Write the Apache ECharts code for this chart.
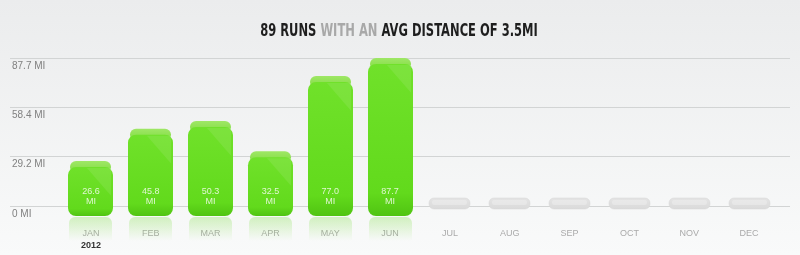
<!DOCTYPE html>
<html>
<head>
<meta charset="utf-8">
<script src="https://cdn.jsdelivr.net/npm/echarts@6/dist/echarts.min.js"></script>
<style>html,body{margin:0;padding:0;}#c{width:800px;height:255px;}</style>
</head>
<body>
<div id="c"></div>
<script>
var months = ['JAN','FEB','MAR','APR','MAY','JUN','JUL','AUG','SEP','OCT','NOV','DEC'];
var distances = [26.6, 45.8, 50.3, 32.5, 77.0, 87.7, null, null, null, null, null, null];
var yTickLabels = ['0 MI', '29.2 MI', '58.4 MI', '87.7 MI'];
var yMax = 87.7;
var yearLabel = '2012';
var titleParts = ['89 RUNS ', 'WITH AN ', 'AVG DISTANCE OF 3.5MI'];

var chart = echarts.init(document.getElementById('c'));

var data = distances.map(function (v, i) {
  return [i, v === null ? 0 : v, v === null ? 0 : 1];
});

function lg(stops) {
  return new echarts.graphic.LinearGradient(0, 0, 0, 1, stops);
}

function renderItem(params, api) {
  var idx = api.value(0), v = api.value(1), has = api.value(2);
  var base = api.coord([idx, 0]);
  var cw = api.size([1, 0])[0];
  var w = Math.round(cw * 0.755);
  var cx = base[0];
  var x = Math.round(cx - w / 2);
  var yb = base[1];
  var ch = [];
  if (!has) {
    ch.push({type: 'rect', shape: {x: x + 2, y: yb - 8, width: w - 4, height: 11, r: 5},
      style: {fill: lg([{offset: 0, color: '#e4e4e4'}, {offset: 1, color: '#dadada'}]), stroke: '#d6d6d6', lineWidth: 0.5}});
    ch.push({type: 'rect', shape: {x: x + 5, y: yb - 6, width: w - 10, height: 5, r: 2},
      style: {fill: 'rgba(255,255,255,0.25)'}});
    return {type: 'group', children: ch};
  }
  var yt = api.coord([idx, v])[1];
  var bodyTop = yt + 6;
  var bottom = yb + 10;
  // reflection
  ch.push({type: 'rect', shape: {x: x + 1, y: bottom + 1, width: w - 2, height: 24, r: [6, 6, 0, 0]},
    style: {fill: lg([{offset: 0, color: 'rgba(120,220,60,0.30)'}, {offset: 1, color: 'rgba(120,220,60,0)'}])}});
  // cap
  ch.push({type: 'rect', shape: {x: x + 2, y: yt, width: w - 4, height: 12, r: 7},
    style: {fill: lg([{offset: 0, color: '#9fe766'}, {offset: 1, color: '#80dc40'}])}});
  // body
  ch.push({type: 'rect', shape: {x: x, y: bodyTop, width: w, height: bottom - bodyTop, r: 8},
    style: {fill: lg([{offset: 0, color: '#70e12a'}, {offset: 0.85, color: '#62da1c'}, {offset: 1, color: '#50c412'}])}});
  // diagonal highlight
  var hx1 = x + w * 0.42, hy = bodyTop + 1, slope = 1.15;
  var yEnd = hy + (x + w - 2 - hx1) * slope;
  var pts;
  if (yEnd <= bottom - 3) {
    pts = [[hx1, hy], [x + w - 2, hy], [x + w - 2, yEnd]];
  } else {
    var xEnd = hx1 + (bottom - 3 - hy) / slope;
    pts = [[hx1, hy], [x + w - 2, hy], [x + w - 2, bottom - 3], [xEnd, bottom - 3]];
  }
  ch.push({type: 'polygon', shape: {points: pts}, style: {fill: 'rgba(255,255,255,0.09)'}});
  // labels
  ch.push({type: 'text', x: cx, y: yb - 14, style: {text: v.toFixed(1), fill: 'rgba(255,255,255,0.8)', font: '9px Arial, "Liberation Sans", sans-serif', align: 'center', verticalAlign: 'middle'}});
  ch.push({type: 'text', x: cx, y: yb - 4, style: {text: 'MI', fill: 'rgba(255,255,255,0.8)', font: '9px Arial, "Liberation Sans", sans-serif', align: 'center', verticalAlign: 'middle'}});
  return {type: 'group', children: ch};
}

var titleFont = '"DejaVu Sans", sans-serif';
var option = {
  animation: false,
  graphic: [{
    type: 'rect', z: -10, silent: true, shape: {x: 0, y: 0, width: 800, height: 255},
    style: {fill: lg([{offset: 0, color: '#ebeced'}, {offset: 1, color: '#f9fafa'}])}
  }, {
    type: 'text', x: 399, y: 31, scaleX: 0.64, z: 10, silent: true,
    style: {
      text: '{a|' + titleParts[0] + '}{b|' + titleParts[1] + '}{a|' + titleParts[2] + '}',
      align: 'center', verticalAlign: 'middle',
      rich: {
        a: {fontFamily: titleFont, fontWeight: 'bold', fontSize: 18, fill: '#1e1e1e'},
        b: {fontFamily: titleFont, fontWeight: 'bold', fontSize: 18, fill: '#a8a8a8'}
      }
    }
  }],
  grid: [
    {left: 10, right: 10, top: 58, bottom: 49},
    {left: 61, right: 21, top: 58, bottom: 49}
  ],
  xAxis: [
    {gridIndex: 0, type: 'value', show: false, min: 0, max: 1},
    {gridIndex: 1, type: 'category', data: months, boundaryGap: true,
      axisLine: {show: false}, axisTick: {show: false},
      axisLabel: {
        margin: 22, interval: 0,
        formatter: function (val, i) {
          return i === 0 ? '{m|' + val + '}\n{y|' + yearLabel + '}' : '{m|' + val + '}';
        },
        rich: {
          m: {fontSize: 9, color: '#aaa', lineHeight: 12, fontFamily: 'Arial, "Liberation Sans", sans-serif'},
          y: {fontSize: 9, color: '#333', fontWeight: 'bold', lineHeight: 12, fontFamily: 'Arial, "Liberation Sans", sans-serif'}
        }
      }
    }
  ],
  yAxis: [
    {gridIndex: 0, type: 'value', min: 0, max: yMax, interval: yMax / 3,
      axisLine: {show: false}, axisTick: {show: false},
      splitLine: {lineStyle: {color: '#d2d4d4', width: 1}},
      axisLabel: {inside: true, margin: 2, verticalAlign: 'top', padding: [3, 0, 0, 0],
        color: '#808080', fontSize: 10, fontFamily: 'Arial, "Liberation Sans", sans-serif',
        formatter: function (val, i) { return yTickLabels[i]; }}
    },
    {gridIndex: 1, type: 'value', min: 0, max: yMax, show: false}
  ],
  series: [{
    type: 'custom', xAxisIndex: 1, yAxisIndex: 1,
    renderItem: renderItem, clip: false,
    encode: {x: 0, y: 1},
    data: data
  }]
};
chart.setOption(option);
</script>
</body>
</html>
